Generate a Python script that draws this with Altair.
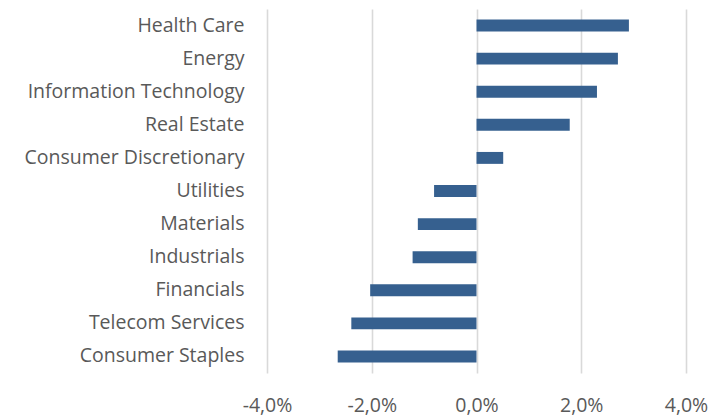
import altair as alt
import pandas as pd

sectors = [
    "Health Care", "Energy", "Information Technology", "Real Estate",
    "Consumer Discretionary", "Utilities", "Materials", "Industrials",
    "Financials", "Telecom Services", "Consumer Staples",
]
returns = [0.0291, 0.0270, 0.0230, 0.0178, 0.0051, -0.0081, -0.0112,
           -0.0122, -0.0203, -0.0239, -0.0265]
tick_values = [-0.04, -0.02, 0.0, 0.02, 0.04]

df = pd.DataFrame({"sector": sectors, "ret": returns})

label_expr = ("(datum.value < -0.0000001 ? '-' : '') + "
              "replace(format(abs(datum.value) * 100, '.1f'), '.', ',') + '%'")

chart = alt.Chart(df).mark_bar(color="#36608F").encode(
    x=alt.X(
        "ret:Q",
        scale=alt.Scale(domain=[-0.04, 0.04], nice=False, zero=False),
        axis=alt.Axis(
            values=tick_values, labelExpr=label_expr, title=None,
            domain=False, ticks=False, grid=True, gridColor="#D9D9D9",
            gridWidth=1.6, labelFontSize=19.5, labelColor="#595959",
            labelFont="Open Sans", labelPadding=23, labelFlush=False,
            labelOverlap=False,
        ),
    ),
    y=alt.Y(
        "sector:N", sort=sectors,
        scale=alt.Scale(paddingInner=0.64, paddingOuter=0.32),
        axis=alt.Axis(
            title=None, domain=False, ticks=False, grid=False,
            labelFontSize=19.5, labelColor="#595959", labelFont="Open Sans",
            labelPadding=23, labelLimit=400,
        ),
    ),
).properties(
    width=419, height=364,
    padding={"left": 267, "top": 9, "right": 28, "bottom": 44},
    autosize=alt.AutoSizeParams(type="none"),
).configure_view(stroke=None)

chart.save("out.html", embed_options={"renderer": "svg", "actions": False})
